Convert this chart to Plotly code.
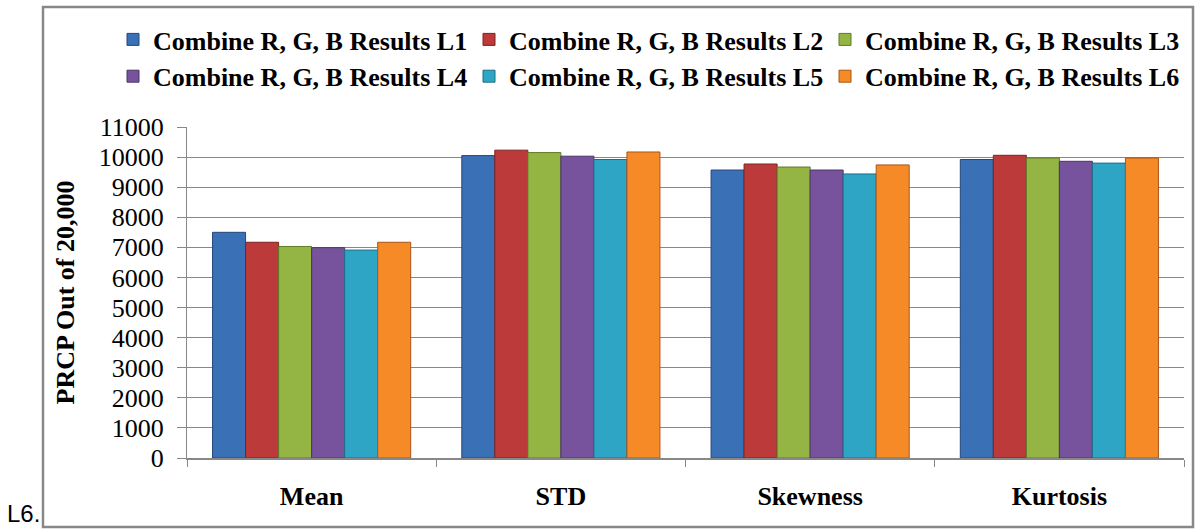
import plotly.graph_objects as go

# Statistic groups on the x axis
categories = ["Mean", "STD", "Skewness", "Kurtosis"]

# PRCP counts (out of 20,000) for each level
series_names = [
    "Combine R, G, B Results L1",
    "Combine R, G, B Results L2",
    "Combine R, G, B Results L3",
    "Combine R, G, B Results L4",
    "Combine R, G, B Results L5",
    "Combine R, G, B Results L6",
]
l1 = [7500, 10050, 9570, 9920]
l2 = [7170, 10230, 9770, 10060]
l3 = [7030, 10150, 9670, 9970]
l4 = [6990, 10030, 9570, 9860]
l5 = [6910, 9920, 9440, 9800]
l6 = [7170, 10170, 9740, 9970]
series_values = [l1, l2, l3, l4, l5, l6]

fill_colors = ["#3a70b5", "#bc3a3a", "#94b444", "#76539c", "#2ea5c4", "#f58a26"]
edge_colors = ["#24487a", "#7e2222", "#5f7a28", "#4b3468", "#1d6f86", "#a8561a"]

y_ticks = list(range(0, 11001, 1000))

serif = "Liberation Serif"

fig = go.Figure()
for name, vals, fc, ec in zip(series_names, series_values, fill_colors, edge_colors):
    fig.add_trace(go.Bar(
        x=categories,
        y=vals,
        name=name,
        marker=dict(color=fc, line=dict(color=ec, width=1)),
    ))

W, H = 1196, 531
L, R, T, B = 187, 12, 127, 73
pw, ph = W - L - R, H - T - B


def px_x(px):
    return (px - L) / pw


def px_y(py):
    return (H - B - py) / ph


fig.update_layout(
    width=W,
    height=H,
    margin=dict(l=L, r=R, t=T, b=B, pad=0),
    paper_bgcolor="white",
    plot_bgcolor="white",
    barmode="group",
    bargap=0.205,
    bargroupgap=0,
    font=dict(family=serif, color="black"),
    legend=dict(
        orientation="h",
        x=px_x(113),
        xanchor="left",
        y=px_y(16),
        yanchor="top",
        font=dict(family=serif, size=26, color="black", weight="bold"),
        itemwidth=30,
        entrywidth=311,
        entrywidthmode="pixels",
        tracegroupgap=0,
        bgcolor="rgba(0,0,0,0)",
    ),
    xaxis=dict(
        showline=True,
        linecolor="#888888",
        linewidth=1.5,
        ticks="outside",
        ticklen=7,
        tickcolor="#888888",
        tickson="boundaries",
        tickfont=dict(family=serif, size=26, color="black", weight="bold"),
        ticklabelstandoff=14,
        showgrid=False,
    ),
    yaxis=dict(
        range=[0, 11000],
        tickvals=y_ticks,
        ticktext=[str(v) for v in y_ticks],
        showline=True,
        linecolor="#888888",
        linewidth=1,
        ticks="outside",
        ticklen=9,
        tickcolor="#888888",
        showgrid=True,
        gridcolor="#888888",
        gridwidth=1,
        zeroline=False,
        tickfont=dict(family=serif, size=26, color="black"),
        ticklabelstandoff=8,
        title=dict(
            text="PRCP Out of 20,000",
            font=dict(family=serif, size=26, color="black", weight="bold"),
            standoff=16,
        ),
    ),
    shapes=[
        dict(
            type="rect",
            xref="paper",
            yref="paper",
            x0=px_x(43),
            x1=px_x(1193),
            y0=px_y(527),
            y1=px_y(7),
            line=dict(color="#888888", width=2.5),
            fillcolor="rgba(0,0,0,0)",
            layer="below",
        )
    ],
    annotations=[
        dict(
            text="L6.",
            xref="paper",
            yref="paper",
            x=px_x(5),
            y=px_y(529),
            xanchor="left",
            yanchor="bottom",
            showarrow=False,
            font=dict(family="Liberation Sans, Arial, sans-serif", size=24, color="black"),
        )
    ],
)

fig.write_html("out.html")
